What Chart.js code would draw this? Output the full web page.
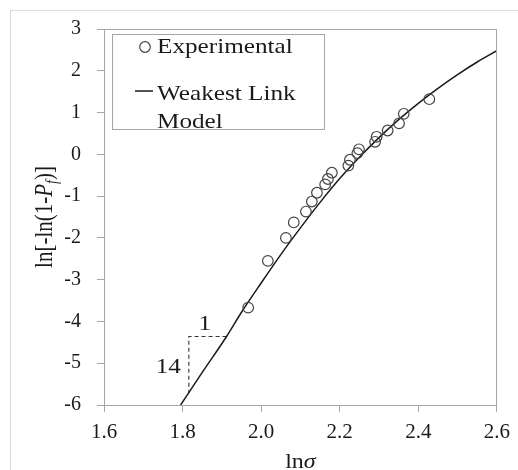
<!DOCTYPE html>
<html lang="en">
<head>
    <meta charset="UTF-8">
    <title>Weakest link model</title>
    <script src="https://cdn.jsdelivr.net/npm/chart.js"></script>
    <style>
        body { margin: 0; background: #fff; }
        canvas { display: block; }
    </style>
</head>
<body>
    <canvas id="chart" width="518" height="470"></canvas>

    <script>
        // values
        const xTicks = [1.6, 1.8, 2.0, 2.2, 2.4, 2.6];
        const yTicks = [-6, -5, -4, -3, -2, -1, 0, 1, 2, 3];

        const expX = [1.967, 2.017, 2.063, 2.083, 2.114, 2.129, 2.142, 2.163, 2.170, 2.180,
                      2.222, 2.226, 2.245, 2.249, 2.290, 2.294, 2.322, 2.351, 2.363, 2.428];
        const expY = [-3.67, -2.55, -2.00, -1.63, -1.37, -1.13, -0.92, -0.72, -0.59, -0.44,
                      -0.27, -0.13, 0.03, 0.12, 0.30, 0.42, 0.57, 0.74, 0.97, 1.32];

        const modelX = [1.795, 1.85, 1.912, 1.95, 2.0, 2.05, 2.1, 2.15, 2.2, 2.25,
                        2.3, 2.35, 2.4, 2.45, 2.5, 2.55, 2.6];
        const modelY = [-6.0, -5.22, -4.36, -3.78, -3.08, -2.40, -1.76, -1.15, -0.58, -0.07,
                        0.40, 0.83, 1.22, 1.58, 1.91, 2.21, 2.48];

        // slope triangle (1 : 14)
        const triX = [1.912, 1.816, 1.816];
        const triY = [-4.36, -4.36, -5.72];

        const SERIF = "'Liberation Serif', 'Times New Roman', serif";
        const SX = 1.2; // the original figure is stretched sideways
        const toXY = (xs, ys) => xs.map((x, i) => ({ x: x, y: ys[i] }));

        function stretchText(ctx, str, x, y, font, align) {
            ctx.save();
            ctx.font = font;
            ctx.translate(x, y);
            ctx.scale(SX, 1);
            ctx.textAlign = align;
            ctx.textBaseline = "alphabetic";
            ctx.fillText(str, 0, 0);
            ctx.restore();
        }

        const decor = {
            id: "decor",
            beforeDraw(chart) {
                const c = chart.ctx;
                c.save();
                c.fillStyle = "#fff";
                c.fillRect(0, 0, chart.width, chart.height);
                c.strokeStyle = "#dcdcdc";
                c.lineWidth = 1;
                c.strokeRect(10.5, 10.5, 700, 700);
                c.restore();
            },
            afterDraw(chart) {
                const c = chart.ctx;
                const a = chart.chartArea;
                const xs = chart.scales.x, ys = chart.scales.y;
                c.save();
                c.fillStyle = "#1a1a1a";

                // plot frame
                c.strokeStyle = "#a6a6a6";
                c.lineWidth = 1;
                c.strokeRect(Math.round(a.left) + 0.5, Math.round(a.top) + 0.5,
                             Math.round(a.right - a.left) - 1, Math.round(a.bottom - a.top));

                // legend
                const lx = a.left + 8, ly = a.top + 5;
                c.fillStyle = "#fff";
                c.fillRect(lx, ly, 212, 95);
                c.strokeRect(Math.round(lx) + 0.5, Math.round(ly) + 0.5, 212, 95);
                c.strokeStyle = "#444";
                c.lineWidth = 1.2;
                c.beginPath();
                c.arc(lx + 33, ly + 13, 5.3, 0, Math.PI * 2);
                c.stroke();
                c.strokeStyle = "#1a1a1a";
                c.lineWidth = 1.5;
                c.beginPath();
                c.moveTo(lx + 23, ly + 57);
                c.lineTo(lx + 41, ly + 57);
                c.stroke();
                c.fillStyle = "#1a1a1a";
                const f21 = "21px " + SERIF;
                stretchText(c, chart.data.datasets[0].label, lx + 45, ly + 19, f21, "left");
                const parts = chart.data.datasets[1].label.split("\n");
                stretchText(c, parts[0], lx + 45, ly + 66, f21, "left");
                stretchText(c, parts[1], lx + 45, ly + 94, f21, "left");

                // slope labels
                stretchText(c, "1", xs.getPixelForValue((triX[0] + triX[1]) / 2) - 3,
                            ys.getPixelForValue(triY[0]) - 6, f21, "center");
                stretchText(c, "14", xs.getPixelForValue(triX[1]) - 8,
                            ys.getPixelForValue((triY[1] + triY[2]) / 2) + 8, f21, "right");

                // x title: ln σ
                c.font = "20px " + SERIF;
                const w1 = c.measureText("ln").width;
                c.font = "italic 20px " + SERIF;
                const w2 = c.measureText("σ").width;
                const tx = (a.left + a.right) / 2 - (w1 + w2) * SX / 2;
                stretchText(c, "ln", tx, 468, "20px " + SERIF, "left");
                stretchText(c, "σ", tx + w1 * SX, 468, "italic 20px " + SERIF, "left");

                // y title: ln[-ln(1-P_f)]
                const pieces = [
                    { t: "ln[-ln(1-", f: "21px " + SERIF, dy: 0 },
                    { t: "P", f: "italic 21px " + SERIF, dy: 0 },
                    { t: "f", f: "italic 14px " + SERIF, dy: 4 },
                    { t: ")]", f: "21px " + SERIF, dy: 0 }
                ];
                let total = 0;
                pieces.forEach(p => { c.font = p.f; p.w = c.measureText(p.t).width; total += p.w; });
                c.save();
                c.translate(52, (a.top + a.bottom) / 2);
                c.rotate(-Math.PI / 2);
                c.scale(1, SX);
                c.textAlign = "left";
                c.textBaseline = "alphabetic";
                let px = -total / 2;
                pieces.forEach(p => {
                    c.font = p.f;
                    c.fillText(p.t, px, p.dy);
                    px += p.w;
                });
                c.restore();

                c.restore();
            }
        };

        new Chart(document.getElementById("chart"), {
            type: "scatter",
            data: {
                datasets: [
                    {
                        label: "Experimental",
                        data: toXY(expX, expY),
                        pointStyle: "circle",
                        pointRadius: 5.3,
                        borderColor: "#444",
                        backgroundColor: "rgba(0,0,0,0)",
                        borderWidth: 1.2,
                        showLine: false,
                        order: 1
                    },
                    {
                        label: "Weakest Link\nModel",
                        data: toXY(modelX, modelY),
                        showLine: true,
                        pointRadius: 0,
                        borderColor: "#1a1a1a",
                        borderWidth: 1.5,
                        cubicInterpolationMode: "monotone",
                        order: 2
                    },
                    {
                        label: "slope",
                        data: toXY(triX, triY),
                        showLine: true,
                        pointRadius: 0,
                        borderColor: "#333",
                        borderWidth: 1.1,
                        borderDash: [4, 3],
                        order: 3
                    }
                ]
            },
            options: {
                responsive: false,
                animation: false,
                devicePixelRatio: 1,
                layout: { padding: { top: 29, right: 19, left: 0, bottom: 0 } },
                plugins: {
                    legend: { display: false },
                    tooltip: { enabled: false }
                },
                scales: {
                    x: {
                        type: "linear",
                        min: xTicks[0],
                        max: xTicks[xTicks.length - 1],
                        afterBuildTicks: s => { s.ticks = xTicks.map(v => ({ value: v })); },
                        afterFit: s => { s.height = 65; },
                        ticks: {
                            callback: v => v.toFixed(1),
                            font: { family: SERIF, size: 21 },
                            color: "#1a1a1a",
                            padding: 8,
                            maxRotation: 0
                        },
                        grid: { drawOnChartArea: false, drawTicks: true, tickLength: 7, color: "#a6a6a6" },
                        border: { display: true, color: "#a6a6a6" }
                    },
                    y: {
                        type: "linear",
                        min: yTicks[0],
                        max: yTicks[yTicks.length - 1],
                        afterBuildTicks: s => { s.ticks = yTicks.map(v => ({ value: v })); },
                        afterFit: s => { s.width = 104; },
                        ticks: {
                            callback: v => String(v),
                            font: { family: SERIF, size: 20 },
                            color: "#1a1a1a",
                            padding: 16
                        },
                        grid: { drawOnChartArea: false, drawTicks: true, tickLength: 7, color: "#a6a6a6" },
                        border: { display: true, color: "#a6a6a6" }
                    }
                }
            },
            plugins: [decor]
        });
    </script>
</body>
</html>
